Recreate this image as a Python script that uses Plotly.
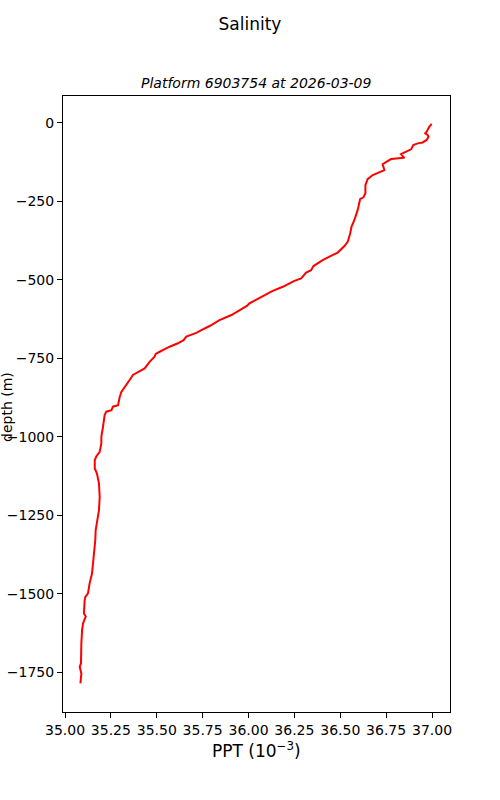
import plotly.graph_objects as go

salinity = [36.998, 36.985, 36.971, 36.963, 36.976, 36.981, 36.971, 36.949, 36.922, 36.898,
            36.886, 36.859, 36.831, 36.849, 36.822, 36.777, 36.753, 36.731, 36.740, 36.722,
            36.677, 36.649, 36.637, 36.637, 36.626, 36.608, 36.595, 36.577, 36.561, 36.554,
            36.541, 36.523, 36.495, 36.486, 36.441, 36.404, 36.354, 36.341, 36.314, 36.287,
            36.250, 36.187, 36.132, 36.078, 36.038, 36.005, 35.991, 35.951, 35.907, 35.842,
            35.788, 35.743, 35.715, 35.661, 35.646, 35.615, 35.570, 35.516, 35.494, 35.488,
            35.461, 35.434, 35.397, 35.370, 35.352, 35.307, 35.298, 35.289, 35.261, 35.253,
            35.225, 35.216, 35.207, 35.198, 35.198, 35.189, 35.171, 35.162, 35.162, 35.174,
            35.185, 35.189, 35.185, 35.176, 35.167, 35.165, 35.158, 35.149, 35.147, 35.134,
            35.125, 35.111, 35.107, 35.103, 35.113, 35.098, 35.093, 35.089, 35.089, 35.087,
            35.080, 35.089, 35.084]
depth = [-3, -12, -28, -33, -38, -44, -54, -62, -65, -70,
         -84, -91, -99, -111, -112, -115, -123, -131, -150, -155,
         -166, -179, -198, -224, -237, -243, -277, -309, -331, -352,
         -378, -392, -407, -413, -426, -437, -456, -469, -477, -495,
         -503, -522, -535, -552, -564, -575, -583, -596, -612, -628,
         -647, -660, -669, -681, -692, -702, -713, -729, -736, -745,
         -761, -782, -793, -803, -819, -857, -873, -899, -904, -915,
         -920, -931, -968, -1000, -1021, -1048, -1062, -1074, -1101, -1117,
         -1149, -1191, -1234, -1266, -1298, -1329, -1372, -1404, -1436, -1467,
         -1499, -1510, -1521, -1563, -1572, -1595, -1616, -1659, -1691, -1722,
         -1733, -1754, -1786]

x_ticks = [35.00, 35.25, 35.50, 35.75, 36.00, 36.25, 36.50, 36.75, 37.00]
y_ticks = [0, -250, -500, -750, -1000, -1250, -1500, -1750]

title = "Salinity"
subtitle = "Platform 6903754 at 2026-03-09"
x_label = "PPT (10<sup>−3</sup>)"
y_label = "depth (m)"

FONT = "DejaVu Sans"

fig = go.Figure()
fig.add_trace(go.Scatter(x=salinity, y=depth, mode="lines",
                         line=dict(color="red", width=2), showlegend=False,
                         hoverinfo="skip"))

axis_common = dict(showgrid=False, zeroline=False, showline=True, linecolor="black",
                   linewidth=1, mirror=True, ticks="outside", ticklen=5, tickwidth=1,
                   tickcolor="black", automargin=False,
                   tickfont=dict(family=FONT, size=14, color="black"))

fig.update_layout(
    width=500, height=800,
    margin=dict(l=63, r=50, t=96, b=88),
    paper_bgcolor="white", plot_bgcolor="white",
    font=dict(family=FONT, color="black"),
    title=dict(text=title, x=0.5, xref="container", xanchor="center",
               y=1 - 24 / 800, yref="container", yanchor="middle",
               font=dict(family=FONT, size=17, color="black")),
    xaxis=dict(range=[34.989, 37.098], tickvals=x_ticks, tickformat=".2f", **axis_common),
    yaxis=dict(range=[-1877, 86], tickvals=y_ticks, **axis_common),
    annotations=[
        dict(text="<i>" + subtitle + "</i>", x=0.5, y=(712 - 83) / 616, xref="paper",
             yref="paper", showarrow=False, xanchor="center", yanchor="middle",
             font=dict(family=FONT, size=14, color="black")),
        dict(text=x_label, x=0.5, y=(712 - 750) / 616, xref="paper", yref="paper",
             showarrow=False, xanchor="center", yanchor="middle",
             font=dict(family=FONT, size=17, color="black")),
        dict(text=y_label, x=(7 - 63) / 387, y=(712 - 407) / 616, xref="paper", yref="paper",
             showarrow=False, xanchor="center", yanchor="middle", textangle=-90,
             font=dict(family=FONT, size=14, color="black")),
    ],
)

fig.write_html("out.html",
               config={"displayModeBar": False},
               post_script="document.body.style.margin='0';document.body.style.padding='0';")
